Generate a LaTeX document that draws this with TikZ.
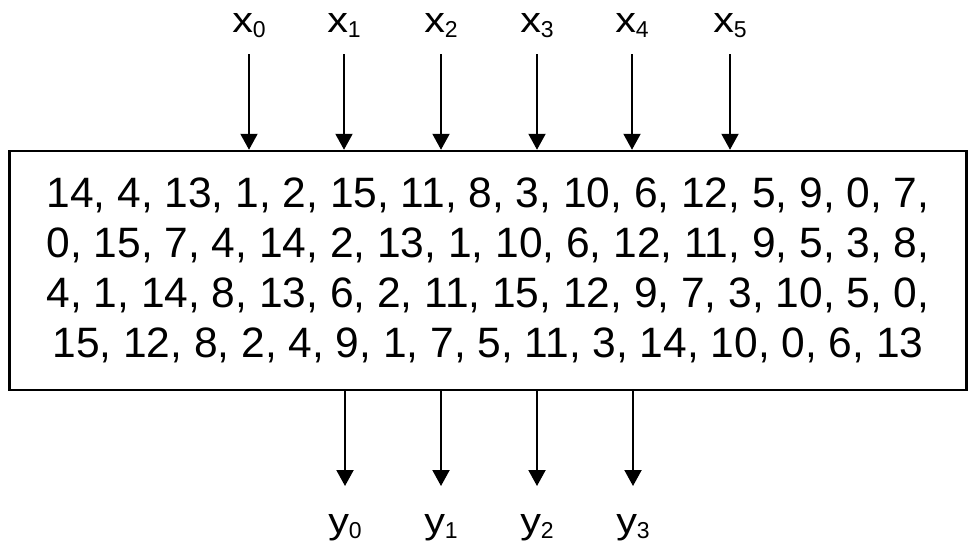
\documentclass[tikz,border=0pt]{standalone}
\usepackage{fontspec}
\setmainfont{Liberation Sans}
\usetikzlibrary{arrows.meta}
\newcommand{\lowsub}[1]{\raisebox{-5.5pt}{\fontsize{23}{23}\selectfont #1}}
\newcommand{\widel}[1]{\scalebox{1.15}[1]{#1}}
\tikzset{
  sboxstyle/.style={draw, line width=2.5pt, inner sep=0pt, align=center,
    font=\fontsize{42.5}{50}\selectfont},
  port/.style={anchor=base, inner sep=0pt, font=\fontsize{36}{36}\selectfont},
  flow/.style={line width=2pt, -{Triangle[width=17pt,length=16pt]}}
}
\begin{document}
\begin{tikzpicture}[x=1pt, y=-1pt]
            \useasboundingbox (0,0) rectangle (976,550);
            \node[sboxstyle, minimum width=957pt, minimum height=239pt] (sbox) at (488,270.5)
              {14, 4, 13, 1, 2, 15, 11, 8, 3, 10, 6, 12, 5, 9, 0, 7,\\
               0, 15, 7, 4, 14, 2, 13, 1, 10, 6, 12, 11, 9, 5, 3, 8,\\
               4, 1, 14, 8, 13, 6, 2, 11, 15, 12, 9, 7, 3, 10, 5, 0,\\
               15, 12, 8, 2, 4, 9, 1, 7, 5, 11, 3, 14, 10, 0, 6, 13};
            % inputs
            \foreach \i/\xpos in {0/249, 1/344, 2/441, 3/537, 4/632, 5/730} {
              \node[port] (x\i) at (\xpos,32) {\widel{x}\lowsub{\i}};
              \coordinate (xs\i) at (\xpos,54);
              \draw[flow] (xs\i) -- (xs\i |- sbox.north);
            }
            % outputs
            \foreach \i/\xpos in {0/345, 1/441, 2/537, 3/633} {
              \node[port] (y\i) at (\xpos,533) {\widel{y}\lowsub{\i}};
              \coordinate (ye\i) at (\xpos,486);
              \draw[flow] (ye\i |- sbox.south) -- (ye\i);
            }
\end{tikzpicture}
\end{document}
